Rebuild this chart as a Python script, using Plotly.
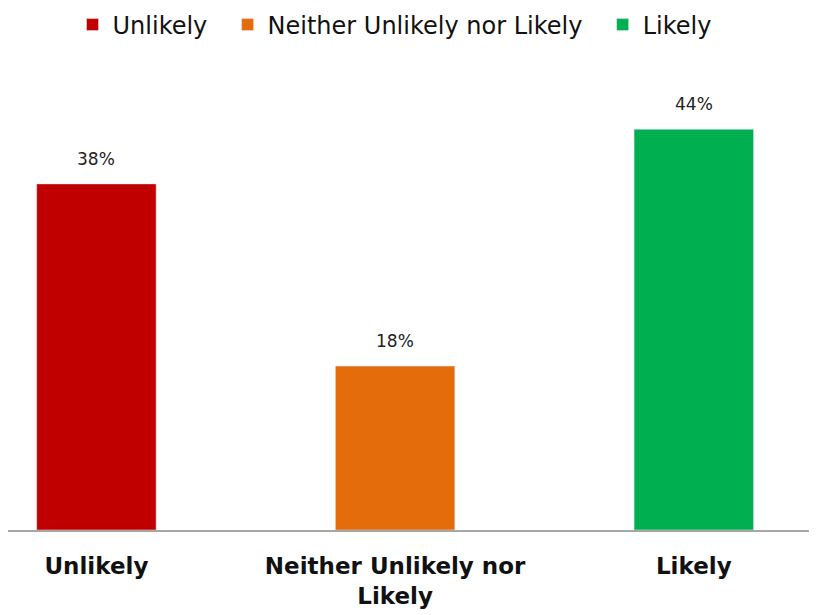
import plotly.graph_objects as go

categories = ["Unlikely", "Neither Unlikely nor Likely", "Likely"]
tick_labels = ["Unlikely", "Neither Unlikely nor<br>Likely", "Likely"]
values = [38, 18, 44]
colors = ["#C00000", "#E46C0A", "#00B050"]

FONT = "DejaVu Sans"
PAD = "\u00a0\u00a0"

fig = go.Figure()
for i, (c, v, col) in enumerate(zip(categories, values, colors)):
    label = c + (PAD if i < len(categories) - 1 else "")
    fig.add_trace(go.Bar(x=[i], y=[v], name=label, marker_color=col, width=0.4,
                         showlegend=True))

for i, v in enumerate(values):
    fig.add_annotation(x=i, y=v, text=f"{v}%", showarrow=False, yanchor="bottom",
                       yshift=13, font=dict(family=FONT, size=17, color="#222"))

fig.update_layout(
    width=825, height=615,
    margin=dict(l=0, r=0, t=52, b=93, autoexpand=False),
    paper_bgcolor="white", plot_bgcolor="white",
    barmode="overlay",
    font=dict(family=FONT, color="#111"),
    legend=dict(orientation="h", x=0.4685, xanchor="center", y=1.0745, yanchor="middle",
                font=dict(family=FONT, size=24, color="#111"), itemwidth=30,
                traceorder="normal"),
    xaxis=dict(range=[-0.296, 2.466], tickmode="array", tickvals=[0, 1, 2],
               ticktext=tick_labels, showline=True, linecolor="#A6A6A6", linewidth=1.5,
               showgrid=False, zeroline=False, ticks="outside", ticklen=15,
               tickcolor="rgba(0,0,0,0)",
               tickfont=dict(family=FONT, size=23, color="#111", weight="bold")),
    yaxis=dict(range=[0, 51.6], visible=False, showgrid=False, zeroline=False),
)

fig.write_html("out.html")
